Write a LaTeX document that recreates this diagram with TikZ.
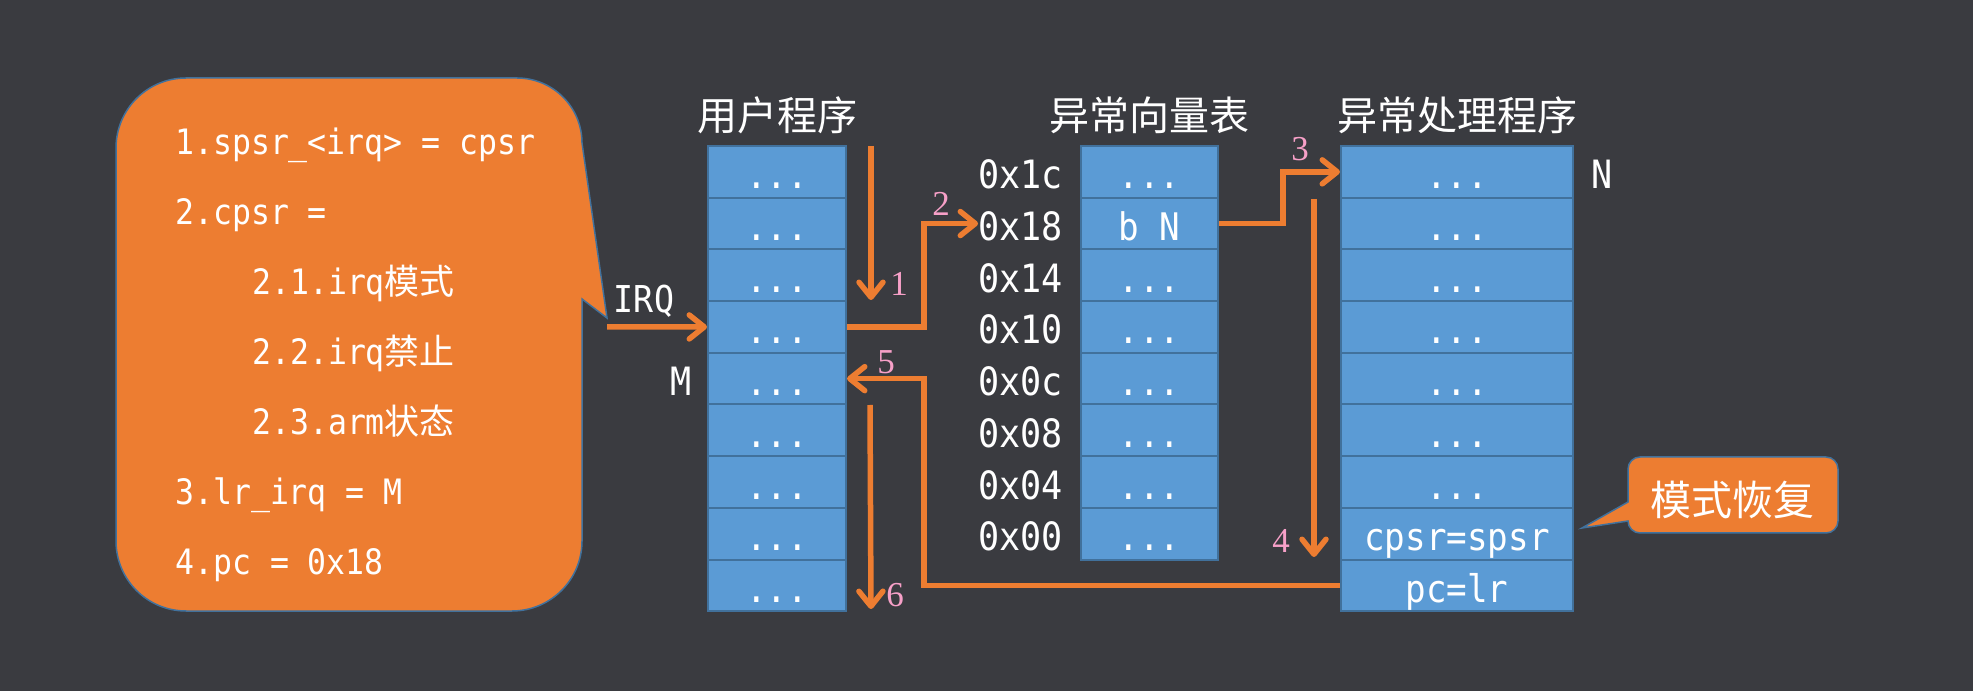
\documentclass[tikz,border=0pt]{standalone}
\usepackage{fontspec}
\usetikzlibrary{positioning, arrows.meta}

\newfontfamily\monofont[FakeStretch=0.9]{DejaVu Sans Mono}
\newfontfamily\cjkfont{Noto Sans CJK SC}
\newfontfamily\numfont{Liberation Serif}
\newcommand{\zh}[1]{{\cjkfont #1}}
\newcommand{\celldots}{...\hspace{10pt}}

\definecolor{bgdark}{RGB}{58,59,64}
\definecolor{cellblue}{RGB}{91,155,213}
\definecolor{cellline}{RGB}{65,113,156}
\definecolor{arrorange}{RGB}{237,125,49}
\definecolor{numpink}{RGB}{247,160,200}

\tikzset{
	cell/.style={draw=cellline, line width=2pt, fill=cellblue, text=white, inner sep=0pt, minimum height=51.7pt, text height=34pt, text depth=0pt, font=\monofont\fontsize{38}{40}\selectfont},
	addr/.style={text=white, inner sep=0pt, text height=34pt, text depth=0pt, font=\monofont\fontsize{39}{40}\selectfont},
	heading/.style={text=white, inner sep=0pt, font=\cjkfont\fontsize{40}{44}\selectfont},
	note/.style={text=white, inner sep=0pt, anchor=base west, font=\monofont\fontsize{35}{40}\selectfont},
	num/.style={text=numpink, inner sep=0pt, font=\numfont\fontsize{35}{40}\selectfont},
	callout/.style={draw=cellline, line width=1.5pt, fill=arrorange},
	flow/.style={draw=arrorange, line width=5.5pt, -{Straight Barb[length=15pt, width=24pt, round]}}
}

\begin{document}
\begin{tikzpicture}[x=1pt, y=1pt]
	\fill[bgdark] (0,0) rectangle (1973,691);
	\useasboundingbox (0,0) rectangle (1973,691);

	\coordinate (irqin) at (607,364);
	\coordinate (bus) at (924,0);
	\coordinate (t1) at (871,545);
	\coordinate (b1) at (871,391);
	\coordinate (t4) at (1314,492);
	\coordinate (b4) at (1314,134);
	\coordinate (t6) at (870,286);
	\coordinate (b6) at (871,82);

	\draw[callout] (582,392) -- (582,150) arc[start angle=0, end angle=-90, radius=70] -- (186,80) arc[start angle=-90, end angle=-180, radius=70] -- (116,543) arc[start angle=180, end angle=90, radius=70] -- (517,613) arc[start angle=90, end angle=0, radius=65] -- (607,373) -- cycle;
	\foreach \x/\y/\txt [count=\i] in {175/536/{1.spsr\_<irq> = cpsr}, 175/466/{2.cpsr =}, 252/396/{2.1.irq\zh{模式}}, 252/326/{2.2.irq\zh{禁止}}, 252/256/{2.3.arm\zh{状态}}, 175/186/{3.lr\_irq = M}, 175/116/{4.pc = 0x18}}
		\node[note] (s\i) at (\x,\y) {\txt};

	\foreach \i in {1,...,9}
		\node[cell, minimum width=138pt] (u\i) at (777,{545-51.7*(\i-0.5)}) {\celldots};
	\foreach \t [count=\i] in {\celldots, b N, \celldots, \celldots, \celldots, \celldots, \celldots, \celldots}
		\node[cell, minimum width=137pt] (v\i) at (1149.5,{545-51.7*(\i-0.5)}) {\t};
	\foreach \t [count=\i] in {\celldots, \celldots, \celldots, \celldots, \celldots, \celldots, \celldots, cpsr=spsr, pc=lr}
		\node[cell, minimum width=232pt] (h\i) at (1457,{545-51.7*(\i-0.5)}) {\t};

	\node[heading, above=11pt of u1] (user) {用户程序};
	\node[heading, above=11pt of v1] (vectors) {异常向量表};
	\node[heading, above=11pt of h1] (handler) {异常处理程序};

	\foreach \a [count=\i] in {1c, 18, 14, 10, 0c, 08, 04, 00}
		\node[addr, left=17pt of v\i] (a\i) {0x\a};
	\node[addr, right=17pt of h1] (n) {N};
	\node[addr, left=15pt of u5] (m) {M};
	\node[note, anchor=base, font=\monofont\fontsize{37}{40}\selectfont] (irq) at (644,378) {IRQ};

	\draw[flow] (irqin) -- (u4.west);
	\draw[flow] (t1) -- (b1);
	\draw[flow] (u4.east) -| (bus |- a2.west) -- (a2.west);
	\draw[flow] (v2.east) -- ++(64,0) |- (h1.west);
	\draw[flow] (t4) -- (b4);
	\draw[flow] (h9.west) -| (bus |- u5.east) -- (u5.east);
	\draw[flow] (t6) -- (b6);

	\node[num] (n1) at (899,407) {1};
	\node[num] (n2) at (941,487) {2};
	\node[num] (n3) at (1300,542) {3};
	\node[num] (n4) at (1281,150) {4};
	\node[num] (n5) at (886,329) {5};
	\node[num] (n6) at (895,96) {6};

	\draw[callout] (1628,189) -- (1628,222) arc[start angle=180, end angle=90, radius=12] -- (1826,234) arc[start angle=90, end angle=0, radius=12] -- (1838,170) arc[start angle=0, end angle=-90, radius=12] -- (1640,158) arc[start angle=-90, end angle=-180, radius=12] -- (1628,170) -- (1582,163) -- cycle;
	\node[heading, font=\cjkfont\fontsize{41}{44}\selectfont] (restore) at (1732,191) {模式恢复};
\end{tikzpicture}
\end{document}
